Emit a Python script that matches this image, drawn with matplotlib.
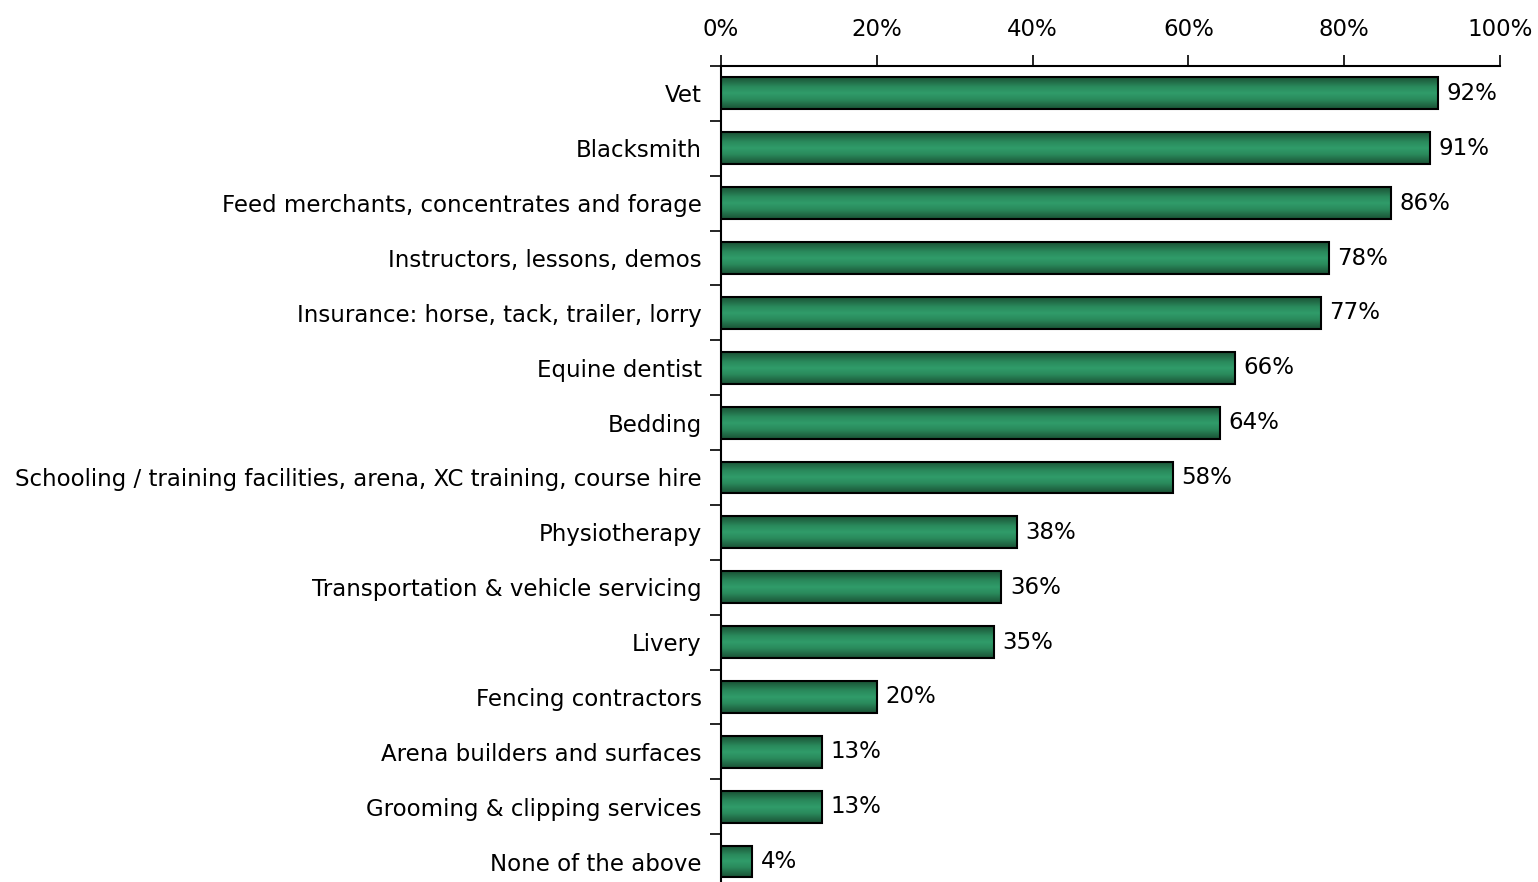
import numpy as np
import matplotlib.pyplot as plt
from matplotlib.colors import LinearSegmentedColormap
from matplotlib.ticker import PercentFormatter

categories = [
    "Vet",
    "Blacksmith",
    "Feed merchants, concentrates and forage",
    "Instructors, lessons, demos",
    "Insurance: horse, tack, trailer, lorry",
    "Equine dentist",
    "Bedding",
    "Schooling / training facilities, arena, XC training, course hire",
    "Physiotherapy",
    "Transportation & vehicle servicing",
    "Livery",
    "Fencing contractors",
    "Arena builders and surfaces",
    "Grooming & clipping services",
    "None of the above",
]
values = [92, 91, 86, 78, 77, 66, 64, 58, 38, 36, 35, 20, 13, 13, 4]

plt.rcParams['font.family'] = ['DejaVu Sans']
fs = 16.5

fig = plt.figure(figsize=(15.38, 8.82), dpi=100)
ax = fig.add_axes([0.4688, -0.0079, 0.5065, 0.9331])

y = np.arange(len(categories))
bar_h = 0.58

# vertical gradient: dark edges, lighter middle
cmap = LinearSegmentedColormap.from_list(
    "g", [(0, "#1a5236"), (0.3, "#2a8a5c"), (0.5, "#309c6a"), (0.7, "#2a8a5c"), (1, "#1a5236")])
grad = np.linspace(0, 1, 64).reshape(-1, 1)

for yi, v in zip(y, values):
    ax.imshow(grad, cmap=cmap, aspect='auto', interpolation='bicubic',
              extent=(0, v, yi + bar_h / 2, yi - bar_h / 2), zorder=2)
    ax.text(v + 1.1, yi, f"{v}%", va='center', ha='left', fontsize=fs)

ax.barh(y, values, height=bar_h, facecolor='none', edgecolor='black', linewidth=1.5, zorder=3)

ax.set_xlim(0, 100)
ax.set_ylim(len(categories) - 0.5, -0.5)
ax.set_yticks(y)
ax.set_yticklabels(categories, fontsize=fs)
ax.set_yticks(np.arange(-0.5, len(categories), 1), minor=True)
ax.tick_params(axis='y', which='major', length=0, pad=14)
ax.tick_params(axis='y', which='minor', length=8, width=1.2, direction='out')

ax.xaxis.tick_top()
ax.set_xticks([0, 20, 40, 60, 80, 100])
ax.xaxis.set_major_formatter(PercentFormatter(decimals=0))
ax.tick_params(axis='x', length=8, width=1.2, direction='out', labelsize=fs, pad=10)

ax.spines['right'].set_visible(False)
ax.spines['bottom'].set_visible(False)
ax.spines['top'].set_linewidth(1.5)
ax.spines['left'].set_linewidth(1.5)

fig.savefig("out.png", dpi=100)
